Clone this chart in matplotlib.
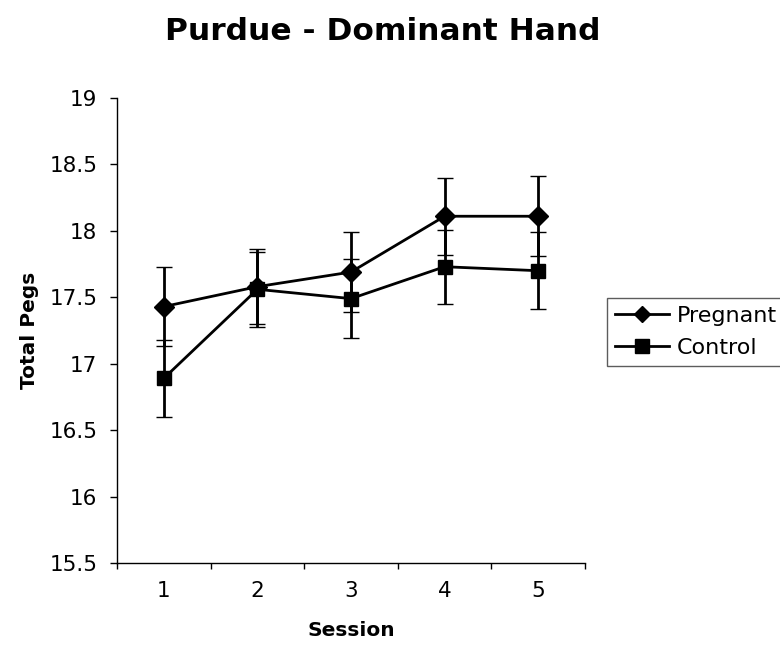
import matplotlib
matplotlib.use("Agg")
import matplotlib.pyplot as plt
from matplotlib.lines import Line2D

sessions = [1, 2, 3, 4, 5]
pregnant = [17.43, 17.58, 17.69, 18.11, 18.11]
pregnant_err = [0.30, 0.28, 0.30, 0.29, 0.30]
control = [16.89, 17.56, 17.49, 17.73, 17.70]
control_err = [0.29, 0.28, 0.30, 0.28, 0.29]
yticks = [15.5, 16, 16.5, 17, 17.5, 18, 18.5, 19]
ytick_labels = ["15.5", "16", "16.5", "17", "17.5", "18", "18.5", "19"]

plt.rcParams["font.family"] = ["DejaVu Sans"]

W, H = 780, 646
fig = plt.figure(figsize=(W / 100, H / 100), dpi=100)
ax = fig.add_axes([117 / W, 1 - 563 / H, (585 - 117) / W, (563 - 98) / H])

common = dict(color="black", lw=2, capsize=5.5, capthick=2, elinewidth=2,
              markeredgewidth=1, zorder=3)
ax.errorbar(sessions, pregnant, yerr=pregnant_err, marker="D", markersize=10,
            label="Pregnant", **common)
ax.errorbar(sessions, control, yerr=control_err, marker="s", markersize=10,
            label="Control", **common)

ax.set_xlim(0.5, 5.5)
ax.set_ylim(15.5, 19)
ax.set_yticks(yticks)
ax.set_yticklabels(ytick_labels)

# tick marks on category boundaries, labels at category centres
ax.set_xticks([0.5, 1.5, 2.5, 3.5, 4.5, 5.5])
ax.set_xticklabels([])
ax.set_xticks(sessions, minor=True)
ax.set_xticklabels([str(s) for s in sessions], minor=True)
ax.tick_params(axis="x", which="minor", length=0, pad=13, labelsize=15.5)
ax.tick_params(axis="x", which="major", length=4.5, width=1, direction="out")
ax.tick_params(axis="y", length=5, width=1, direction="out", labelsize=15.5,
               pad=9)

for side in ("top", "right"):
    ax.spines[side].set_visible(False)
for side in ("left", "bottom"):
    ax.spines[side].set_linewidth(1)

ax.set_xlabel("Session", fontsize=14.5, fontweight="bold")
ax.xaxis.set_label_coords(0.5, -(636 - 563) / 465, transform=ax.transAxes)
ax.xaxis.label.set_va("baseline")
ax.set_ylabel("Total Pegs", fontsize=14.5, fontweight="bold")
ax.yaxis.set_label_coords(-(117 - 35) / 468, 0.5, transform=ax.transAxes)
ax.yaxis.label.set_va("baseline")

fig.text(383 / W, 1 - 40 / H, "Purdue - Dominant Hand", fontsize=22.5,
         fontweight="bold", ha="center", va="baseline")

handles = [
    Line2D([], [], color="black", lw=2, marker="D", markersize=8.5),
    Line2D([], [], color="black", lw=2, marker="s", markersize=9.5),
]
leg = fig.legend(handles, ["Pregnant", "Control"], loc="upper left",
                 bbox_to_anchor=(607 / W, 1 - 298 / H), fontsize=16,
                 frameon=True, fancybox=False, edgecolor="#333333",
                 handlelength=2.45, handletextpad=0.35, borderpad=0.35,
                 labelspacing=0.55, borderaxespad=0)
leg.get_frame().set_linewidth(1)

fig.savefig("out.png", dpi=100)
